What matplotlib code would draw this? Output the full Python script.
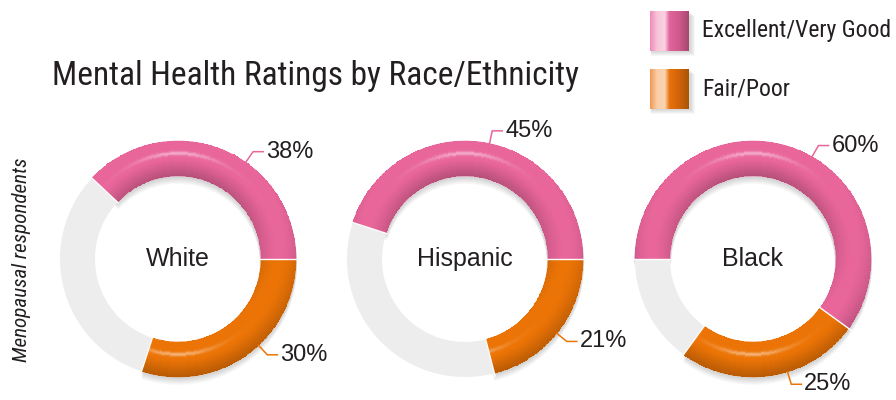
import numpy as np
import matplotlib
matplotlib.use("Agg")
import matplotlib.pyplot as plt
from matplotlib.patches import Wedge, Rectangle
from matplotlib.colors import to_rgb
from matplotlib import font_manager

#data
GROUPS = ["White", "Hispanic", "Black"]
EXCELLENT = [38, 45, 60]   # Excellent/Very Good, %
FAIR_POOR = [30, 21, 25]   # Fair/Poor, %
LEGEND_LABELS = ["Excellent/Very Good", "Fair/Poor"]
TITLE = "Mental Health Ratings by Race/Ethnicity"
SIDE_LABEL = "Menopausal respondents"

#layout, in pixels with y going up
CENTERS_X = [178, 465, 753]
CENTER_Y = 141
R_OUT = 118
R_IN = 83
# pink arc anchor: (angle, direction) - ccw starts at angle, cw ends at angle
PINK_ANCHOR = [(0, "ccw"), (0, "ccw"), (180, "cw")]
LABEL_ANGLES = [(55, -47), (78, -39), (60, -73)]

PINK = "#e9669b"
ORANGE = "#ec7406"
GREY = "#ededed"
TEXT = "#231f20"
SANS = ["Liberation Sans", "DejaVu Sans"]

PINK_STOPS = [(0.0, "#ee8cb6"), (0.18, "#f7c4da"), (0.38, "#f9d2e3"),
              (0.5, "#e2649c"), (0.75, "#cf5a8b"), (1.0, "#a5486f")]
ORANGE_STOPS = [(0.0, "#f09a52"), (0.18, "#f9cda8"), (0.38, "#fad4b2"),
                (0.5, "#e8720c"), (0.75, "#d0640a"), (1.0, "#a85406")]

# pick a condensed face if there is one
names = {f.name for f in font_manager.fontManager.ttflist}
narrow_candidates = ["Liberation Sans Narrow", "Roboto Condensed",
                     "Noto Sans Condensed", "Open Sans Condensed"]
NARROW = [n for n in narrow_candidates if n in names]
CONDENSED = len(NARROW) > 0
if not CONDENSED:
    NARROW = ["Roboto", "DejaVu Sans"]
# shrink sizes when only normal-width faces exist
NS = 1.0 if CONDENSED else 0.8


def shade_ring(ax, cx, cy, t1, t2, base):
    # tube look: light from above, highlight + darker edges
    n_th = max(int(abs(t2 - t1)), 2) + 1
    th = np.radians(np.linspace(t1, t2, n_th))
    rr = np.linspace(R_IN, R_OUT, 36)
    TH, RR = np.meshgrid(th, rr)
    X = cx + RR * np.cos(TH)
    Y = cy + RR * np.sin(TH)
    thc = (th[:-1] + th[1:]) / 2
    rc = (rr[:-1] + rr[1:]) / 2
    THc, RC = np.meshgrid(thc, rc)
    t = (RC - R_IN) / (R_OUT - R_IN)
    phi = (t - 0.5) * np.pi * 0.9
    nx = np.sin(phi) * np.cos(THc)
    ny = np.sin(phi) * np.sin(THc)
    nz = np.cos(phi)
    L = np.array([0.0, 1.1, 1.0])
    L /= np.linalg.norm(L)
    d = nx * L[0] + ny * L[1] + nz * L[2]
    fac = 1 + 0.17 * (d - L[2])
    fac = np.minimum(fac, 1.0)
    H = L + np.array([0, 0, 1.0])
    H /= np.linalg.norm(H)
    spec = np.clip(nx * H[0] + ny * H[1] + nz * H[2], 0, 1) ** 80
    c = np.array(to_rgb(base))
    col = np.clip(c[None, None, :] * fac[..., None], 0, 1)
    col = col + (1 - col) * spec[..., None] * 0.45
    ax.pcolormesh(X, Y, col, shading="flat", antialiased=False, zorder=3)
    ax.add_patch(Wedge((cx, cy), R_OUT, t1, t2, width=R_OUT - R_IN,
                       facecolor="none", edgecolor=base, lw=0.4, zorder=2.9))


def gradient_box(ax, x0, y0, w, h, stops):
    pos = [s[0] for s in stops]
    cols = np.array([to_rgb(s[1]) for s in stops])
    xs = np.linspace(0, 1, 100)
    grad = np.stack([np.interp(xs, pos, cols[:, k]) for k in range(3)], axis=-1)
    for k in range(1, 6):
        ax.add_patch(Rectangle((x0 + 1, y0 - k), w + k, h, facecolor="k",
                               alpha=0.03, lw=0, zorder=1))
    ax.imshow(grad[None, :, :], extent=[x0, x0 + w, y0, y0 + h],
              aspect="auto", zorder=2, interpolation="bilinear")


fig = plt.figure(figsize=(8.96, 4.0), dpi=100)
ax = fig.add_axes([0, 0, 1, 1])
ax.set_xlim(0, 896)
ax.set_ylim(0, 400)
ax.axis("off")

for i, g in enumerate(GROUPS):
    cx, cy = CENTERS_X[i], CENTER_Y
    p = 3.6 * EXCELLENT[i]
    q = 3.6 * FAIR_POOR[i]
    a, direction = PINK_ANCHOR[i]
    b = a if direction == "ccw" else a - p
    segs = [(b, b + p, PINK), (b - q, b, ORANGE)]

    # soft drop shadow under coloured part
    for k in range(1, 8):
        ax.add_patch(Wedge((cx, cy - k), R_OUT + 1, b - q, b + p,
                           width=R_OUT - R_IN + 2, facecolor="k",
                           alpha=0.022, lw=0, zorder=1))
    ax.add_patch(Wedge((cx, cy), R_OUT, b + p, b - q + 360,
                       width=R_OUT - R_IN, facecolor=GREY, lw=0, zorder=2))
    for t1, t2, col in segs:
        shade_ring(ax, cx, cy, t1, t2, col)
    # white separators
    for ang in [b, b + p, b - q]:
        r_ = np.radians(ang)
        ax.plot([cx + (R_IN - 1) * np.cos(r_), cx + (R_OUT + 3) * np.cos(r_)],
                [cy + (R_IN - 1) * np.sin(r_), cy + (R_OUT + 3) * np.sin(r_)],
                color="white", lw=1.0, zorder=4)

    ax.text(cx, cy, g, ha="center", va="center", fontsize=18,
            family=SANS, color=TEXT, zorder=5)

    # leader lines and labels
    for val, ang, col in [(EXCELLENT[i], LABEL_ANGLES[i][0], PINK),
                          (FAIR_POOR[i], LABEL_ANGLES[i][1], ORANGE)]:
        r_ = np.radians(ang)
        x1, y1 = cx + R_OUT * np.cos(r_), cy + R_OUT * np.sin(r_)
        x2, y2 = cx + 131 * np.cos(r_), cy + 131 * np.sin(r_)
        ax.plot([x1, x2, x2 + 10], [y1, y2, y2], color=col, lw=1.1,
                zorder=4, solid_joinstyle="miter")
        ax.text(x2 + 13, y2, f"{val}%", ha="left", va="center",
                fontsize=17, family=SANS, color=TEXT, zorder=5)

ax.text(52, 324, TITLE, ha="left", va="center", fontsize=24 * NS,
        family=NARROW, color=TEXT)
ax.text(22, 140, SIDE_LABEL, ha="center", va="center", rotation=90,
        fontsize=15.2 * NS, family=NARROW, style="italic", color=TEXT)

gradient_box(ax, 650, 349, 39, 40, PINK_STOPS)
gradient_box(ax, 650, 291, 39, 40, ORANGE_STOPS)
ax.text(702, 369, LEGEND_LABELS[0], ha="left", va="center",
        fontsize=17 * NS, family=NARROW, color=TEXT)
ax.text(702, 311, LEGEND_LABELS[1], ha="left", va="center",
        fontsize=17 * NS, family=NARROW, color=TEXT)

fig.savefig("out.png", dpi=100)
